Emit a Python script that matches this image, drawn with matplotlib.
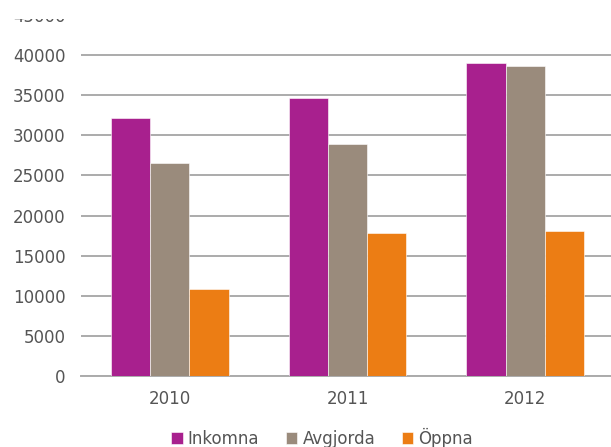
import matplotlib
matplotlib.use("Agg")
import matplotlib.pyplot as plt
import numpy as np
from matplotlib.patches import Rectangle

years = ["2010", "2011", "2012"]
series_names = ["Inkomna", "Avgjorda", "Öppna"]
inkomna = [32200, 34600, 39000]
avgjorda = [26600, 28900, 38600]
oppna = [10800, 17800, 18100]
colors = ["#A8208E", "#9A8B7C", "#EC7D14"]
yticks = [0, 5000, 10000, 15000, 20000, 25000, 30000, 35000, 40000, 45000]

plt.rcParams['font.family'] = ['DejaVu Sans']
W, H = 611, 447
fig = plt.figure(figsize=(W/100, H/100), dpi=100)
ax = fig.add_axes([81/W, 1-376/H, (614-81)/W, (376-15)/H])

x = np.arange(len(years))
bw = 0.221
for i, (vals, c, name) in enumerate(zip([inkomna, avgjorda, oppna], colors, series_names)):
    ax.bar(x + (i-1)*bw, vals, bw, color=c, label=name, zorder=3,
           edgecolor="white", linewidth=0.4)

ax.set_xlim(-0.5, 2.5)
ax.set_ylim(0, 45000)
ax.set_yticks(yticks)
ax.set_yticklabels([str(v) for v in yticks])
ax.set_xticks(x)
ax.set_xticklabels(years)
for s in ["top", "right", "left"]:
    ax.spines[s].set_visible(False)
ax.spines["bottom"].set_color("#ABABAB")
ax.spines["bottom"].set_linewidth(1.4)
ax.grid(axis="y", color="#ABABAB", linewidth=1.4, zorder=0)
ax.yaxis.get_gridlines()[-1].set_visible(False)
ax.tick_params(axis="both", length=0, labelsize=12, colors="#555555")
ax.tick_params(axis="y", pad=11)
ax.tick_params(axis="x", pad=10)

leg = fig.legend(loc="center", bbox_to_anchor=(322/W, 1-438/H), ncol=3, frameon=False,
                 fontsize=12, handlelength=0.7, handleheight=0.7, handletextpad=0.3,
                 columnspacing=1.6, labelcolor="#555555")

fig.add_artist(Rectangle((0, 1-19/H), 1, 19/H, transform=fig.transFigure,
                         facecolor="white", edgecolor="none", zorder=10))

fig.savefig("out.png", dpi=100)
